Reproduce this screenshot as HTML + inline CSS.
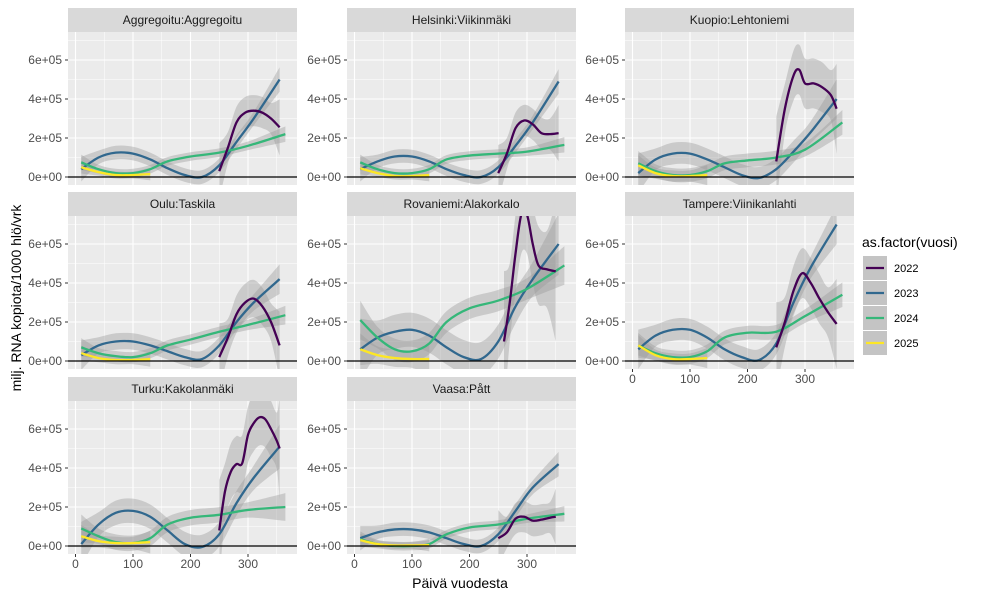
<!DOCTYPE html>
<html><head><meta charset="utf-8"><style>
body{margin:0;background:#fff;}
svg{display:block;font-family:"Liberation Sans",Arial,sans-serif;}
</style></head><body>
<svg id="c" width="1000" height="600"></svg>
<script>
const panelNames=["Aggregoitu:Aggregoitu","Helsinki:Viikinmäki","Kuopio:Lehtoniemi","Oulu:Taskila","Rovaniemi:Alakorkalo","Tampere:Viinikanlahti","Turku:Kakolanmäki","Vaasa:Pått"];
const years=["2022","2023","2024","2025"];
const colors=["#440154","#31688E","#35B779","#FDE725"];
const yTicks=[0,200,400,600];
const yTickLabels=["0e+00","2e+05","4e+05","6e+05"];
const xTicks=[0,100,200,300];
const days2023=[10,40,70,100,130,160,190,220,250,280,310,355];
const days2024=[10,40,70,100,130,160,200,250,300,365];
const days2025=[10,40,70,100,130];
// values in thousands
const v2023=[
[40,100,125,120,90,45,10,0,60,180,300,500],
[40,80,105,105,80,40,10,0,50,160,280,490],
[20,90,120,120,90,50,10,-5,40,130,230,400],
[30,80,100,100,80,50,20,10,80,200,300,420],
[60,120,150,160,130,70,20,10,100,280,420,600],
[60,130,160,160,120,60,20,5,90,300,480,700],
[10,110,170,180,150,80,10,-5,60,220,350,510],
[40,70,85,85,70,40,10,0,60,180,300,420]];
const v2024=[
[75,40,20,20,40,80,105,125,160,220],
[75,40,20,20,40,90,110,120,130,165],
[70,30,10,10,30,70,85,100,140,280],
[70,40,25,20,40,80,110,150,185,235],
[210,120,60,50,90,200,270,310,370,490],
[80,40,20,20,50,120,145,150,230,340],
[90,50,20,15,40,110,145,160,185,200],
[35,10,0,0,10,60,95,110,140,165]];
const v2025=[
[50,25,10,10,15],[45,20,5,5,10],[60,20,5,5,10],[40,15,5,5,10],
[60,30,15,10,10],[80,30,10,10,15],[50,25,15,15,20],[30,10,3,3,5]];
const days2022=[
[250,265,280,295,310,325,340,355],
[250,265,280,295,310,325,340,355],
[250,265,280,290,300,315,330,345,355],
[250,265,280,295,310,325,340,355],
[260,270,280,290,300,310,320,335,350],
[250,265,280,295,310,325,340,355],
[250,260,270,280,290,300,310,320,330,340,350,355],
[250,265,280,295,310,325,340,350]];
const v2022=[
[30,150,280,330,340,330,300,255],
[20,120,250,290,270,225,220,225],
[80,350,520,550,480,480,460,420,350],
[20,120,240,300,320,280,200,80],
[100,300,550,750,750,600,490,470,460],
[70,200,360,450,400,320,250,190],
[80,280,380,420,425,570,630,660,650,600,540,500],
[40,70,140,150,130,135,145,150]];
const bandScale=[1,1,1.6,1.2,2.5,1.6,1.8,1];

const NS="http://www.w3.org/2000/svg";
const svg=document.getElementById("c");
function mk(tag,attrs,parent){const e=document.createElementNS(NS,tag);for(const k in attrs)e.setAttribute(k,attrs[k]);(parent||svg).appendChild(e);return e;}
const colX=[68,347,625],rowY=[8,192,377],PW=229,SH=24,PH=153;
function smooth(pts){if(pts.length<2)return"";let d="M"+pts[0][0]+","+pts[0][1];
 for(let i=0;i<pts.length-1;i++){const p0=pts[Math.max(i-1,0)],p1=pts[i],p2=pts[i+1],p3=pts[Math.min(i+2,pts.length-1)];
 d+=" C"+(p1[0]+(p2[0]-p0[0])/6)+","+(p1[1]+(p2[1]-p0[1])/6)+" "+(p2[0]-(p3[0]-p1[0])/6)+","+(p2[1]-(p3[1]-p1[1])/6)+" "+p2[0]+","+p2[1];}
 return d;}
const defs=mk("defs",{});
panelNames.forEach((name,pi)=>{
 const c=pi%3,r=Math.floor(pi/3);
 const L=colX[c],T=rowY[r]+SH;
 const xs=d=>L+7.5+d*0.575;
 const ys=v=>T+145-v*0.195;
 const g=mk("g",{});
 
 
 const strip=mk("rect",{x:L,y:rowY[r],width:PW,height:SH,fill:"#D9D9D9"},g);
 
 
 const st=mk("text",{x:L+PW/2,y:rowY[r]+16,"text-anchor":"middle","font-size":"12",fill:"#1A1A1A"},g);
 st.textContent=name;
 
 
 const bg=mk("rect",{x:L,y:T,width:PW,height:PH,fill:"#EBEBEB"},g);
 
 
 const cp=mk("clipPath",{id:"cp"+pi},defs);mk("rect",{x:L,y:T,width:PW,height:PH},cp);
 [100,300,500,700].forEach(v=>mk("line",{x1:L,x2:L+PW,y1:ys(v),y2:ys(v),stroke:"#fff","stroke-width":0.5},g));
 [50,150,250,350].forEach(v=>mk("line",{x1:xs(v),x2:xs(v),y1:T,y2:T+PH,stroke:"#fff","stroke-width":0.5},g));
 yTicks.forEach(v=>mk("line",{x1:L,x2:L+PW,y1:ys(v),y2:ys(v),stroke:"#fff","stroke-width":1.1},g));
 xTicks.forEach(v=>mk("line",{x1:xs(v),x2:xs(v),y1:T,y2:T+PH,stroke:"#fff","stroke-width":1.1},g));
 const cg=mk("g",{"clip-path":"url(#cp"+pi+")"},g);
 const series=[[days2022[pi],v2022[pi],80],[days2023,v2023[pi],35],[days2024,v2024[pi],22],[days2025,v2025[pi],18]];
 series.forEach((s,si)=>{
  const [dx,vy,se]=s;const n=dx.length;
  const up=dx.map((d,i)=>{const w=se*bandScale[pi]*((i==0||i==n-1)?1.8:1);return[xs(d),ys(vy[i]+w)];});
  const lo=dx.map((d,i)=>{const w=se*bandScale[pi]*((i==0||i==n-1)?1.8:1);return[xs(d),ys(vy[i]-w)];}).reverse();
  const band=mk("path",{d:smooth(up)+" L"+lo[0][0]+","+lo[0][1]+smooth(lo).replace(/^M[^ ]+/,"")+"Z",fill:"#999","fill-opacity":0.4},cg);
  
  
 });
 const zl=mk("line",{x1:L,x2:L+PW,y1:ys(0),y2:ys(0),stroke:"#000","stroke-width":1.2},g);
 
 
 [1,2,3,0].forEach(si=>{
  const [dx,vy]=series[si];
  const p=mk("path",{d:smooth(dx.map((d,i)=>[xs(d),ys(vy[i])])),fill:"none",stroke:colors[si],"stroke-width":2.3},cg);
  
  
 });
 yTicks.forEach((v,i)=>{
  mk("line",{x1:L-3,x2:L,y1:ys(v),y2:ys(v),stroke:"#333","stroke-width":1},g);
  const t=mk("text",{x:L-6,y:ys(v)+4,"text-anchor":"end","font-size":"12",fill:"#4D4D4D"},g);
  t.textContent=yTickLabels[i];
  
  
 });
 const showX=(r==2)||(r==1&&c==2);
 if(showX){xTicks.forEach(v=>{
  mk("line",{x1:xs(v),x2:xs(v),y1:T+PH,y2:T+PH+3,stroke:"#333","stroke-width":1},g);
  const t=mk("text",{x:xs(v),y:T+PH+14,"text-anchor":"middle","font-size":"12",fill:"#4D4D4D"},g);
  t.textContent=String(v);
  
  
 });}
});
const yt=mk("text",{x:0,y:0,transform:"translate(21,298) rotate(-90)","text-anchor":"middle","font-size":"14",fill:"#000"});
yt.textContent="milj. RNA kopiota/1000 hlö/vrk";


const xt=mk("text",{x:460,y:588,"text-anchor":"middle","font-size":"14",fill:"#000"});
xt.textContent="Päivä vuodesta";


const lg=mk("g",{});


const lt=mk("text",{x:862,y:247,"font-size":"14",fill:"#000"},lg);
lt.textContent="as.factor(vuosi)";


years.forEach((y,i)=>{
 const cy=268+i*25;
 const e=mk("g",{},lg);
 
 
 mk("rect",{x:863,y:cy-12,width:24,height:24,fill:"#C4C4C4"},e);
 mk("line",{x1:866,x2:884,y1:cy,y2:cy,stroke:colors[i],"stroke-width":2.3},e);
 const t=mk("text",{x:894,y:cy+4,"font-size":"11",fill:"#000"},e);
 t.textContent=y;
});
</script>
</body></html>
